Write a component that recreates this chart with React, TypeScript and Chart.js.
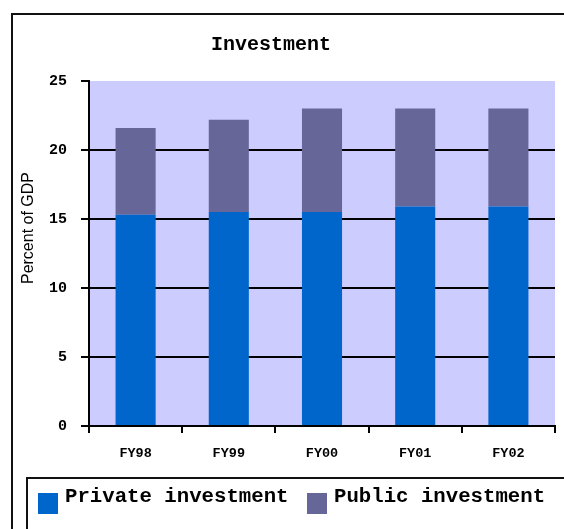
import React, { useEffect, useRef } from "react";
import { Chart, registerables } from "chart.js";

Chart.register(...registerables);

// Fiscal years on the category axis
const categories: string[] = ["FY98", "FY99", "FY00", "FY01", "FY02"];

// Investment as a share of GDP (percent)
const privateInvestment: number[] = [15.3, 15.5, 15.5, 15.9, 15.9];
const publicInvestment: number[] = [6.3, 6.7, 7.5, 7.1, 7.1];

// Value axis
const yTicks: number[] = [0, 5, 10, 15, 20, 25];

const chartTitle = "Investment";
const yAxisTitle = "Percent of GDP";
const seriesNames: string[] = ["Private investment", "Public investment"];

const PRIVATE_COLOR = "#0066CC";
const PUBLIC_COLOR = "#666699";
const PLOT_BG = "#CCCCFF";
const MONO = "'Liberation Mono', 'DejaVu Sans Mono', monospace";

const W = 564;
const H = 529;

// Frame, plot background, title, axis title and legend panel
const decorations = {
  id: "decorations",
  beforeDraw(chart: Chart) {
    const { ctx, chartArea } = chart;
    ctx.save();
    ctx.fillStyle = "#ffffff";
    ctx.fillRect(0, 0, W, H);
    ctx.fillStyle = PLOT_BG;
    ctx.fillRect(
      chartArea.left,
      chartArea.top,
      chartArea.right - chartArea.left,
      chartArea.bottom - chartArea.top
    );
    ctx.restore();
  },
  afterDraw(chart: Chart) {
    const { ctx } = chart;
    ctx.save();

    // outer frame (runs off the right and bottom edges)
    ctx.strokeStyle = "#111";
    ctx.lineWidth = 2;
    ctx.strokeRect(12, 14, W + 20, H + 20);

    // title
    ctx.fillStyle = "#000";
    ctx.font = `bold 20px ${MONO}`;
    ctx.textAlign = "center";
    ctx.textBaseline = "middle";
    ctx.fillText(chartTitle, 271, 45);

    // vertical axis title
    ctx.save();
    ctx.translate(29, 228);
    ctx.rotate(-Math.PI / 2);
    ctx.font = "16px 'Liberation Sans', Arial, sans-serif";
    ctx.textAlign = "center";
    ctx.textBaseline = "middle";
    ctx.fillText(yAxisTitle, 0, 0);
    ctx.restore();

    // legend panel
    ctx.strokeStyle = "#111";
    ctx.lineWidth = 2;
    ctx.strokeRect(27, 478, W + 20, H);

    const items = chart.data.datasets.map((ds, i) => ({
      color: ds.backgroundColor as string,
      label: seriesNames[i],
    }));
    const boxX = [38, 307];
    ctx.font = `bold 20.7px ${MONO}`;
    ctx.textAlign = "left";
    ctx.textBaseline = "middle";
    items.forEach((it, i) => {
      ctx.fillStyle = it.color;
      ctx.fillRect(boxX[i], 493, 20, 21);
      ctx.fillStyle = "#000";
      ctx.fillText(it.label, boxX[i] + 27, 497);
    });

    ctx.restore();
  },
};

export default function App() {
  const canvasRef = useRef<HTMLCanvasElement | null>(null);

  useEffect(() => {
    const canvas = canvasRef.current;
    if (!canvas) return;
    const chart = new Chart(canvas, {
      type: "bar",
      data: {
        labels: categories,
        datasets: [
          {
            label: seriesNames[0],
            data: privateInvestment,
            backgroundColor: PRIVATE_COLOR,
            barPercentage: 0.43,
            categoryPercentage: 1,
          },
          {
            label: seriesNames[1],
            data: publicInvestment,
            backgroundColor: PUBLIC_COLOR,
            barPercentage: 0.43,
            categoryPercentage: 1,
          },
        ],
      },
      options: {
        responsive: false,
        animation: false,
        devicePixelRatio: 1,
        layout: { padding: { left: 0, top: 81, right: 9, bottom: 63 } },
        plugins: {
          legend: { display: false },
          title: { display: false },
          tooltip: { enabled: false },
        },
        scales: {
          x: {
            stacked: true,
            afterFit: (s: any) => {
              s.height = 40;
            },
            grid: {
              drawOnChartArea: false,
              offset: true,
              color: "#000",
              tickColor: "#000",
              tickLength: 7,
              lineWidth: 2,
            },
            border: { color: "#000", width: 2 },
            ticks: {
              color: "#000",
              padding: 12,
              font: { family: MONO, weight: "bold", size: 13.5 },
            },
          },
          y: {
            stacked: true,
            min: yTicks[0],
            max: yTicks[yTicks.length - 1],
            afterFit: (s: any) => {
              s.width = 89;
            },
            afterBuildTicks: (s: any) => {
              s.ticks = yTicks.map((v) => ({ value: v }));
            },
            grid: {
              color: (c: any) =>
                c.tick && c.tick.value === yTicks[yTicks.length - 1]
                  ? "rgba(0,0,0,0)"
                  : "#000",
              tickColor: "#000",
              tickLength: 8,
              lineWidth: 2,
            },
            border: { color: "#000", width: 2 },
            ticks: {
              color: "#000",
              padding: 14,
              font: { family: MONO, weight: "bold", size: 15 },
            },
          },
        },
      },
      plugins: [decorations],
    });
    return () => chart.destroy();
  }, []);

  return (
    <div style={{ position: "absolute", left: 0, top: 0, width: W, height: H }}>
      <canvas ref={canvasRef} width={W} height={H} style={{ display: "block" }} />
    </div>
  );
}
